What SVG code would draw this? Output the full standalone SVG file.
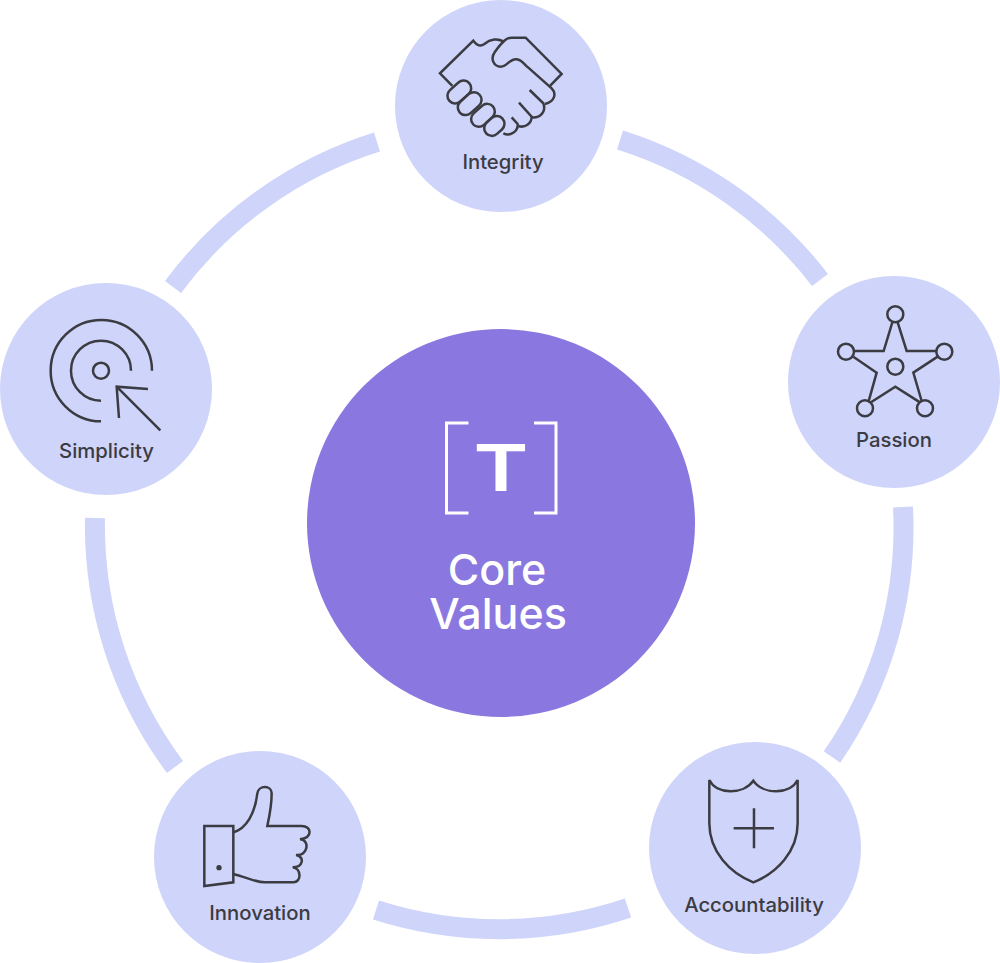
<svg xmlns="http://www.w3.org/2000/svg" width="1000" height="963" viewBox="0 0 1000 963">
<style>
.bg{fill:#ffffff}
.node{fill:#cfd4fa}
.arc{fill:none;stroke:#cfd4fa;stroke-width:20}
.icon{fill:none;stroke:#3b3b42;stroke-width:7.500;stroke-linejoin:miter}
.cap{fill:#cfd4fa;stroke:#3b3b42;stroke-width:7.500}
.label{font-family:Inter,"Liberation Sans",sans-serif;font-size:20.300px;font-weight:500;fill:#3b3b42;text-anchor:middle}
.core{font-family:Inter,"Liberation Sans",sans-serif;font-size:43px;font-weight:500;fill:#ffffff;text-anchor:middle}
</style>
<rect class="bg" width="1000" height="963"/>
<g id="connectors">
<path class="arc" d="M377 142 A404 404 0 0 0 173 287"/>
<path class="arc" d="M620 140 A404 404 0 0 1 820 280"/>
<path class="arc" d="M903 507 A404 404 0 0 1 832 757"/>
<path class="arc" d="M628 908 A404 404 0 0 1 376 910"/>
<path class="arc" d="M95 518 A404 404 0 0 0 175 767"/>
</g>
<g id="core">
<circle cx="501" cy="523" r="194" fill="#8a78e0"/>
<g fill="none" stroke="#ffffff" stroke-width="3"><path d="M468.500 423H446.500V513H468.500"/><path d="M534 423H556V513H534"/></g>
<text transform="translate(501 491) scale(1.28 1)" x="0" y="0" font-family="Inter,'Liberation Sans',sans-serif" font-size="65" font-weight="600" fill="#ffffff" text-anchor="middle">T</text>
<text class="core" x="497" y="585">Core</text>
<text class="core" x="498" y="629">Values</text>
</g>
<g id="integrity">
<circle class="node" cx="501" cy="106" r="106"/>
<g transform="translate(395 0) scale(.3333)">
<path class="icon" d="M172 258L135 220L235 122C245 135 255 142 268 132C285 118 310 112 328 127"/>
<path class="icon" d="M465 258L500 222L392 113L350 113C335 113 325 122 300 155C285 175 295 200 318 200C335 200 345 175 365 178C380 180 385 190 400 203L470 265C485 280 480 305 450 312"/>
<path class="icon" d="M404 270L445 310C455 335 435 355 410 352"/>
<path class="icon" d="M372 308L410 350C410 370 390 385 370 378"/>
<path class="icon" d="M350 352L368 372C370 395 345 410 325 400"/>
<rect class="cap" x="-40" y="-23" width="80" height="46" rx="23" transform="translate(193 276) rotate(-42)"/>
<rect class="cap" x="-40" y="-23" width="80" height="46" rx="23" transform="translate(224 311) rotate(-42)"/>
<rect class="cap" x="-40" y="-23" width="80" height="46" rx="23" transform="translate(264 346) rotate(-42)"/>
<rect class="cap" x="-33" y="-23" width="66" height="46" rx="23" transform="translate(298 378) rotate(-42)"/>
</g>
<text class="label" x="503" y="169">Integrity</text>
</g>
<g id="passion">
<circle class="node" cx="894" cy="382" r="106"/>
<g transform="translate(785 275) scale(.3333)">
<circle class="icon" cx="331" cy="118" r="24"/><circle class="icon" cx="183" cy="230" r="24"/><circle class="icon" cx="478" cy="230" r="24"/><circle class="icon" cx="240" cy="400" r="24"/><circle class="icon" cx="420" cy="400" r="24"/><circle class="icon" cx="331" cy="275" r="24"/>
<path class="icon" d="M322 142L296 228L207 228M205 245L275 293L250 382M258 382L331 335L405 382M410 378L385 293L458 245M456 228L365 228L338 142"/>
</g>
<text class="label" x="894" y="447">Passion</text>
</g>
<g id="accountability">
<circle class="node" cx="755" cy="848" r="106"/>
<g transform="translate(645 745) scale(.3333)">
<path class="icon" d="M193 105C215 150 295 150 325 107C355 150 435 150 458 105L458 235C458 320 395 385 325 412C255 385 193 320 193 235Z"/>
<path class="icon" d="M327 190V310M266 250H387"/>
</g>
<text class="label" x="754" y="912">Accountability</text>
</g>
<g id="innovation">
<circle class="node" cx="260" cy="857" r="106"/>
<g transform="translate(150 750) scale(.3333)">
<path class="icon" d="M163 228L250 228L250 397L163 408Z"/>
<circle cx="207" cy="353" r="8" fill="#3b3b42"/>
<path class="icon" d="M250 247C290 235 315 190 322 130C325 105 365 105 365 130C365 170 358 200 352 228L455 228C485 228 490 262 450 268C480 268 475 320 438 315C465 320 460 352 428 352C455 355 455 397 430 397L345 397C315 397 285 380 250 372"/>
</g>
<text class="label" x="260" y="920">Innovation</text>
</g>
<g id="simplicity">
<circle class="node" cx="106" cy="389" r="106"/>
<g transform="translate(0 280) scale(.3333)">
<path class="icon" d="M456 272A152 152 0 1 0 303 424"/>
<path class="icon" d="M393 272A90 90 0 1 0 303 362"/>
<circle class="icon" cx="303" cy="272" r="24"/>
<path class="icon" d="M481 451L350 320M444 327L350 320L357 414"/>
</g>
<text class="label" x="106.500" y="458">Simplicity</text>
</g>
</svg>
